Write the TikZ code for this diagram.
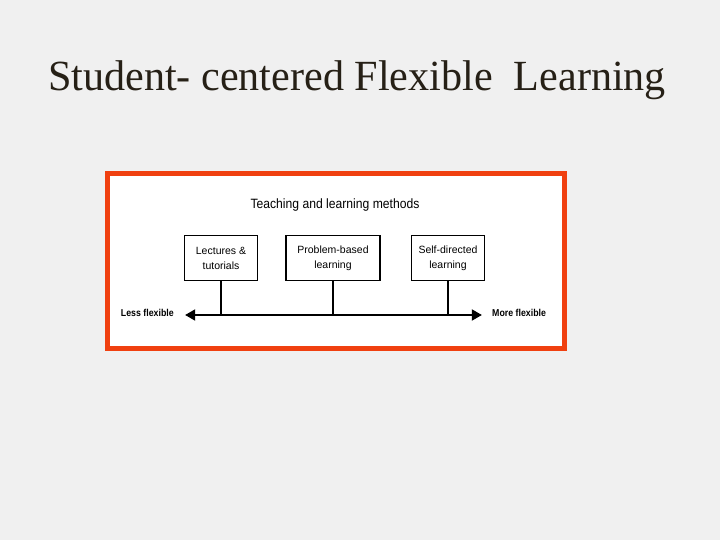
\documentclass[tikz,border=0pt]{standalone}
\usepackage{fontspec}
\setmainfont{Liberation Serif}
\setsansfont{Liberation Sans}
\usepackage{xcolor}
\usetikzlibrary{positioning,arrows.meta,calc}

\definecolor{slidebg}{RGB}{240,240,240}
\definecolor{framered}{RGB}{240,64,16}
\definecolor{titleink}{RGB}{38,32,22}

\begin{document}
\begin{tikzpicture}[
    x=1pt, y=-1pt,
    >={Triangle[length=3.6mm, width=3.8mm]},
    method/.style={draw, line width=1.2pt, align=center, font=\sffamily\fontsize{10.5}{15}\selectfont,
                   minimum height=45pt, minimum width=73pt, inner sep=1pt},
    endlabel/.style={font=\sffamily\bfseries\fontsize{10}{11}\selectfont, inner sep=0pt},
  ]
    \useasboundingbox (0,0) rectangle (720,540);
    \fill[slidebg] (0,0) rectangle (720,540);
    \node[font=\fontsize{43}{46}\selectfont, text=titleink, inner sep=0pt] (title) at (357,80)
      {\scalebox{0.98}[1]{Student- centered Flexible\ \ Learning}};
    \draw[framered, line width=5pt, fill=white] (107.5,173.5) rectangle (564.5,348.5);
    \node[font=\sffamily\fontsize{13.5}{15}\selectfont, inner sep=0pt] (head) at (335,205)
      {\scalebox{0.9}[1]{Teaching and learning methods}};
    \node[method] (lect) at (221,258) {Lectures \&\\tutorials};
    \node[method, minimum width=94pt] (prob) at (333,258) {Problem-based\\learning};
    \node[method] (self) at (448,258) {Self-directed\\learning};
    \coordinate (left) at (185,315);
    \coordinate (right) at (482,315);
    \node[endlabel, anchor=east] (less) at (174,313) {\scalebox{0.88}[1]{Less flexible}};
    \node[endlabel, anchor=west] (more) at (492,313) {\scalebox{0.88}[1]{More flexible}};
    \draw[<->, line width=2.8pt] (left) -- (right);
    \draw[line width=1.2pt] (lect.south) -- (lect.south |- left);
    \draw[line width=1.2pt] (prob.south) -- (prob.south |- left);
    \draw[line width=1.2pt] (self.south) -- (self.south |- left);
  \end{tikzpicture}
\end{document}
